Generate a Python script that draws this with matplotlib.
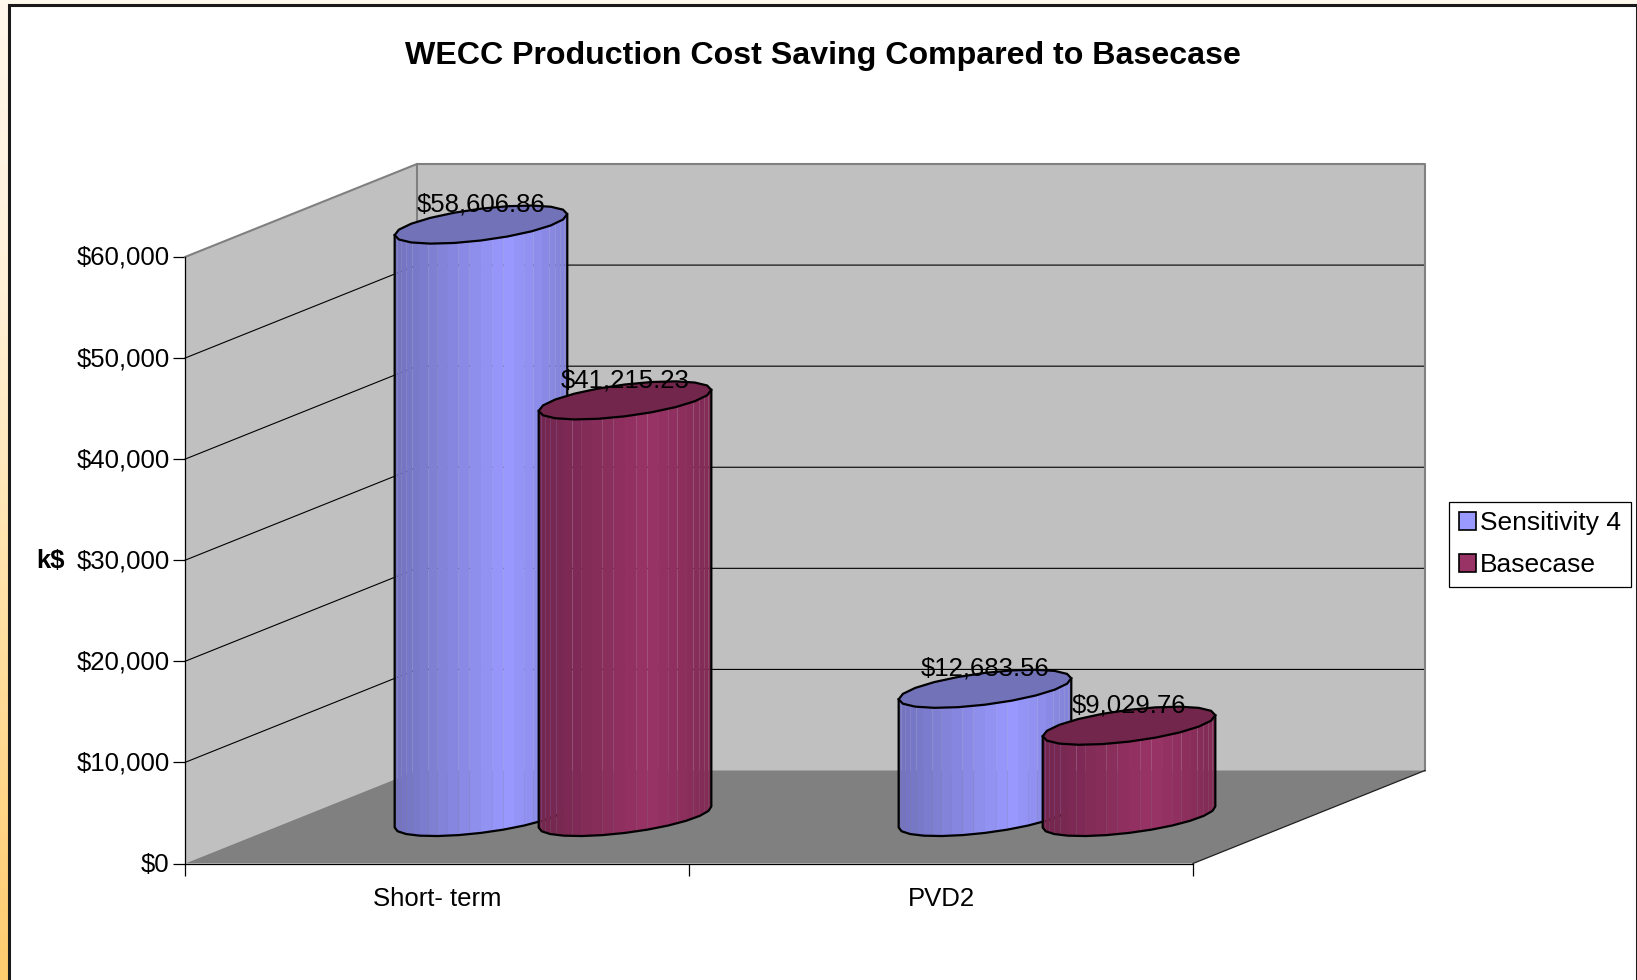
import numpy as np
import matplotlib
matplotlib.use('Agg')
import matplotlib.pyplot as plt
from matplotlib.patches import Patch, Polygon, Rectangle
from matplotlib.ticker import FuncFormatter
from matplotlib.transforms import ScaledTranslation

plt.rcParams['font.family'] = ['Liberation Sans', 'DejaVu Sans']

# Data
categories = ['Short- term', 'PVD2']
sensitivity_4 = [58606.86, 12683.56]
basecase = [41215.23, 9029.76]
series_names = ['Sensitivity 4', 'Basecase']
y_ticks = [0, 10000, 20000, 30000, 40000, 50000, 60000]

# Colours of each cylinder: left edge, brightest, right edge, top
blue_shades = ['#7272BE', '#9999FF', '#8282D8', '#7272B8']
red_shades = ['#72264D', '#993366', '#802B55', '#72264C']

W, H = 1637, 980
FONT = 18.5

# Oblique depth of the 3D box, in axes data units
DEPTH_X = 0.4603
DEPTH_Y = 9200
HALF_W = 0.1429    # half width of a cylinder along the category axis
HALF_D = 0.205     # half depth of a cylinder, as part of the box depth


def lerp_colour(c1, c2, f):
    a = np.array(matplotlib.colors.to_rgb(c1))
    b = np.array(matplotlib.colors.to_rgb(c2))
    return a + (b - a) * f


def ellipse(cx, value, t):
    x = cx + 0.5 * DEPTH_X + HALF_W * np.cos(t) + HALF_D * DEPTH_X * np.sin(t)
    y = value + 0.5 * DEPTH_Y + HALF_D * DEPTH_Y * np.sin(t)
    return x, y


def draw_cylinder(ax, cx, value, shades, z):
    t_right = np.arctan2(HALF_D * DEPTH_X, HALF_W)
    t = np.linspace(t_right, t_right - np.pi, 25)
    xt, yt = ellipse(cx, value, t)
    xb, yb = ellipse(cx, 0, t)
    left, right = xt.min(), xt.max()

    # Vertical facets, the seams between them stay faintly visible
    for i in range(len(t) - 1):
        f = ((xt[i] + xt[i + 1]) / 2 - left) / (right - left)
        if f < 0.65:
            col = lerp_colour(shades[0], shades[1], f / 0.65)
        else:
            col = lerp_colour(shades[1], shades[2], (f - 0.65) / 0.35)
        ax.add_patch(Polygon([(xt[i], yt[i]), (xt[i + 1], yt[i + 1]),
                              (xb[i + 1], yb[i + 1]), (xb[i], yb[i])],
                             fc=col, ec='none', clip_on=False, zorder=z))

    # Top and outline
    t2 = t_right + np.linspace(0, 2 * np.pi, 21)
    xe, ye = ellipse(cx, value, t2)
    ax.add_patch(Polygon(np.column_stack([xe, ye]), fc=shades[3], ec='black',
                         lw=1.6, clip_on=False, zorder=z + 0.01))
    ax.plot(np.r_[xt[0], xb[::2], xb[-1], xt[-1]], np.r_[yt[0], yb[::2], yb[-1], yt[-1]],
            color='black', lw=1.6, clip_on=False, zorder=z + 0.01)
    ax.text(cx + 0.5 * DEPTH_X, value + 0.5 * DEPTH_Y + 2000, f'${value:,.2f}',
            ha='center', va='center', fontsize=FONT, color='black', zorder=6)


fig = plt.figure(figsize=(W / 100, H / 100), dpi=100, facecolor='white')

# Slide background round the chart frame
bg = fig.add_axes([0, 0, 1, 1], zorder=-1)
stops = [0, 0.3, 0.6, 1]
stop_cols = np.array([matplotlib.colors.to_rgb(c) for c in ['#FFF8EC', '#FFF0D8', '#FFE2A8', '#FFCC6E']])
pos = np.linspace(0, 1, 256)
strip = np.column_stack([np.interp(pos, stops, stop_cols[:, k]) for k in range(3)])
bg.imshow(strip[:, None, :], aspect='auto', extent=[0, 1, 0, 1])
bg.axis('off')
fig.patches.append(Rectangle((9 / W, -0.01), (W - 9) / W, 1 - 5 / H + 0.01,
                             transform=fig.transFigure, fc='white', ec='#1A1A1A',
                             lw=2.2, zorder=-0.5, figure=fig))

ax = fig.add_axes([185 / W, (H - 863.5) / H, 1008 / W, 606.5 / H], facecolor='none', zorder=1)
ax.set_xlim(0, 2)
ax.set_ylim(0, 60000)

# Walls and floor of the box
ax.add_patch(Polygon([(0, 0), (0, 60000), (DEPTH_X, 60000 + DEPTH_Y), (DEPTH_X, DEPTH_Y)],
                     fc='#C0C0C0', ec='none', clip_on=False, zorder=1))
ax.add_patch(Polygon([(DEPTH_X, DEPTH_Y), (DEPTH_X, 60000 + DEPTH_Y),
                      (2 + DEPTH_X, 60000 + DEPTH_Y), (2 + DEPTH_X, DEPTH_Y)],
                     fc='#C0C0C0', ec='none', clip_on=False, zorder=1))
ax.add_patch(Polygon([(0, 0), (DEPTH_X, DEPTH_Y), (2 + DEPTH_X, DEPTH_Y), (2, 0)],
                     fc='#808080', ec='none', clip_on=False, zorder=1))

# Gridlines bent round the corner of the box
for v in y_ticks[1:-1]:
    ax.plot([0, DEPTH_X, 2 + DEPTH_X], [v, v + DEPTH_Y, v + DEPTH_Y], color='black',
            lw=0.8, clip_on=False, zorder=2)

# Grey edges of the walls
ax.plot([0, DEPTH_X, 2 + DEPTH_X, 2 + DEPTH_X], [60000, 60000 + DEPTH_Y, 60000 + DEPTH_Y, DEPTH_Y],
        color='#808080', lw=1.5, clip_on=False, zorder=2)
ax.plot([DEPTH_X, DEPTH_X], [DEPTH_Y, 60000 + DEPTH_Y], color='#808080', lw=1.5,
        clip_on=False, zorder=2)
ax.plot([2, 2 + DEPTH_X], [0, DEPTH_Y], color='#202020', lw=0.9, clip_on=False, zorder=2)

# Cylinders, later ones cover the earlier ones
for i in range(len(categories)):
    draw_cylinder(ax, i + 0.5 - HALF_W, sensitivity_4[i], blue_shades, 3 + i * 0.2)
    draw_cylinder(ax, i + 0.5 + HALF_W, basecase[i], red_shades, 3.1 + i * 0.2)

# Axes
for side in ['top', 'right']:
    ax.spines[side].set_visible(False)
for side in ['left', 'bottom']:
    ax.spines[side].set_linewidth(0.9)
    ax.spines[side].set_zorder(2.5)
ax.set_yticks(y_ticks)
ax.yaxis.set_major_formatter(FuncFormatter(lambda v, pos: f'${v:,.0f}'))
ax.set_xticks([0, 1, 2])
ax.set_xticklabels([])
ax.set_xticks([0.5, 1.5], labels=categories, minor=True)
ax.tick_params(axis='y', length=8.6, width=0.9, labelsize=FONT, pad=2.5)
ax.tick_params(axis='x', which='major', length=8.6, width=0.9)
ax.tick_params(axis='x', which='minor', length=0, labelsize=FONT, pad=17)
# y labels sit a little above their ticks
up = ScaledTranslation(0, 1.5 / 100, fig.dpi_scale_trans)
for lab in ax.get_yticklabels():
    lab.set_transform(lab.get_transform() + up)
ax.set_ylabel('k$', rotation=0, fontsize=FONT, fontweight='bold', va='center')
ax.yaxis.set_label_coords((50 - 185) / 1008, (863.5 - 561) / 606.5)

fig.text(823 / W, 1 - 56 / H, 'WECC Production Cost Saving Compared to Basecase',
         ha='center', va='center', fontsize=23.1, fontweight='bold')

handles = [Patch(fc=blue_shades[1], ec='black', lw=1.2, label=series_names[0]),
           Patch(fc=red_shades[1], ec='black', lw=1.2, label=series_names[1])]
leg = fig.legend(handles=handles, loc='lower left',
                 bbox_to_anchor=(1449 / W, 1 - 587 / H), bbox_transform=fig.transFigure,
                 fontsize=19, fancybox=False, framealpha=1, edgecolor='black',
                 handlelength=0.65, handleheight=0.65, handletextpad=0.17,
                 labelspacing=0.7, borderaxespad=0, borderpad=0.36)
leg.get_frame().set_linewidth(0.9)

fig.savefig('out.png', dpi=100)
